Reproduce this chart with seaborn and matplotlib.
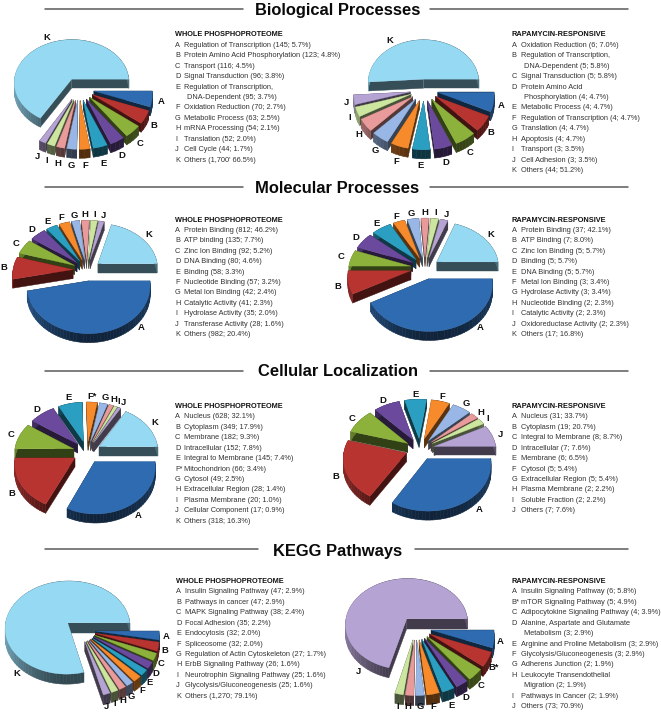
import numpy as np
import matplotlib
matplotlib.use("Agg")
import matplotlib.pyplot as plt
from matplotlib.lines import Line2D
import seaborn as sns

W, H = 661, 714
sns.set_theme(style="white")
plt.rcParams['font.family'] = ['Liberation Sans', 'DejaVu Sans']

PALETTE = sns.color_palette(["#2f6bb0", "#b83430", "#8cb23c", "#6b4a9e", "#2a9fc2", "#f78a2b",
                             "#98b7e6", "#e99b9b", "#cce69f", "#b5a3d3", "#96d9f3"])

TITLES = ["Biological Processes", "Molecular Processes", "Cellular Localization", "KEGG Pathways"]
WHOLE = "WHOLE PHOSPHOPROTEOME"
RAPA = "RAPAMYCIN-RESPONSIVE"

LETTERS_K = list("ABCDEFGHIJK")
LETTERS_J = list("ABCDEFGHIJ")

bio_whole_names = ["Regulation of Transcription", "Protein Amino Acid Phosphorylation", "Transport",
                   "Signal Transduction", "Regulation of Transcription,\nDNA-Dependent", "Oxidation Reduction",
                   "Metabolic Process", "mRNA Processing", "Translation", "Cell Cycle", "Others"]
bio_whole_counts = ["145;", "123;", "116;", "96;", "95;", "70;", "63;", "54;", "52;", "44;", "1,700'"]
bio_whole_pct = [5.7, 4.8, 4.5, 3.8, 3.7, 2.7, 2.5, 2.1, 2.0, 1.7, 66.5]

bio_rapa_names = ["Oxidation Reduction", "Regulation of Transcription,\nDNA-Dependent", "Signal Transduction",
                  "Protein Amino Acid\nPhosphorylation", "Metabolic Process", "Regulation of Transcription",
                  "Translation", "Apoptosis", "Transport", "Cell Adhesion", "Others"]
bio_rapa_counts = ["6;", "5;", "5;", "4;", "4;", "4;", "4;", "4;", "3;", "3;", "44;"]
bio_rapa_pct = [7.0, 5.8, 5.8, 4.7, 4.7, 4.7, 4.7, 4.7, 3.5, 3.5, 51.2]

mol_whole_names = ["Protein Binding", "ATP binding", "Zinc Ion Binding", "DNA Binding", "Binding",
                   "Nucleotide Binding", "Metal Ion Binding", "Catalytic Activity", "Hydrolase Activity",
                   "Transferase Activity", "Others"]
mol_whole_counts = ["812;", "135;", "92;", "80;", "58;", "57;", "42;", "41;", "35;", "28;", "982;"]
mol_whole_pct = [46.2, 7.7, 5.2, 4.6, 3.3, 3.2, 2.4, 2.3, 2.0, 1.6, 20.4]

mol_rapa_names = ["Protein Binding", "ATP Binding", "Zinc Ion Binding", "Binding", "DNA Binding",
                  "Metal Ion Binding", "Hydrolase Activity", "Nucleotide Binding", "Catalytic Activity",
                  "Oxidoreductase Activity", "Others"]
mol_rapa_counts = ["37;", "7;", "5;", "5;", "5;", "3;", "3;", "2;", "2;", "2;", "17;"]
mol_rapa_pct = [42.1, 8.0, 5.7, 5.7, 5.7, 3.4, 3.4, 2.3, 2.3, 2.3, 16.8]
# the drawn slices follow the counts: Others is larger than the printed 16.8%
mol_rapa_slices = [37, 7, 5, 5, 5, 3, 3, 2, 2, 2, 17]

cel_whole_names = ["Nucleus", "Cytoplasm", "Membrane", "Intracellular", "Integral to Membrane", "Mitochondrion",
                   "Cytosol", "Extracellular Region", "Plasma Membrane", "Cellular Component", "Others"]
cel_whole_counts = ["628;", "349;", "182;", "152;", "145;", "66;", "49;", "28;", "20;", "17;", "318;"]
cel_whole_pct = [32.1, 17.9, 9.3, 7.8, 7.4, 3.4, 2.5, 1.4, 1.0, 0.9, 16.3]
cel_whole_letters = ["A", "B", "C", "D", "E", "F*", "G", "H", "I", "J", "K"]

cel_rapa_names = ["Nucleus", "Cytoplasm", "Integral to Membrane", "Intracellular", "Membrane", "Cytosol",
                  "Extracellular Region", "Plasma Membrane", "Soluble Fraction", "Others"]
cel_rapa_counts = ["31;", "19;", "8;", "7;", "6;", "5;", "5;", "2;", "2;", "7;"]
cel_rapa_pct = [33.7, 20.7, 8.7, 7.6, 6.5, 5.4, 5.4, 2.2, 2.2, 7.6]

keg_whole_names = ["Insulin Signaling Pathway", "Pathways in cancer", "MAPK Signaling Pathway", "Focal Adhesion",
                   "Endocytosis", "Spliceosome", "Regulation of Actin Cytoskeleton", "ErbB Signaling Pathway",
                   "Neurotrophin Signaling Pathway", "Glycolysis/Gluconeogenesis", "Others"]
keg_whole_counts = ["47;", "47;", "38;", "35;", "32;", "32;", "27;", "26;", "25;", "25;", "1,270;"]
keg_whole_pct = [2.9, 2.9, 2.4, 2.2, 2.0, 2.0, 1.7, 1.6, 1.6, 1.6, 79.1]

keg_rapa_names = ["Insulin Signaling Pathway", "mTOR Signaling Pathway", "Adipocytokine Signaling Pathway",
                  "Alanine, Aspartate and Glutamate\nMetabolism", "Arginine and Proline Metabolism",
                  "Glycolysis/Gluconeogenesis", "Adherens Junction", "Leukocyte Transendothelial\nMigration",
                  "Pathways in Cancer", "Others"]
keg_rapa_counts = ["6;", "5;", "4;", "3;", "3;", "3;", "2;", "2;", "2;", "73;"]
keg_rapa_pct = [5.8, 4.9, 3.9, 2.9, 2.9, 2.9, 1.9, 1.9, 1.9, 70.9]
keg_rapa_letters = ["A", "B*", "C", "D", "E", "F", "G", "H", "I", "J"]

fig = plt.figure(figsize=(W / 100, H / 100), dpi=100, facecolor="white")


def fx(x):
    return x / W


def fy(y):
    return 1 - y / H


def shade(col, f):
    return tuple(c * f for c in col)


def exploded_pie(cx, cy, rx, ry, k, depth, ex, pct, letters, lab=0.17, place=None):
    """Draw an exploded, tilted pie. Values run clockwise from 3 o'clock."""
    place = place or {}
    box = 105
    ax = fig.add_axes([fx(cx - box), fy(cy + box), 2 * box / W, 2 * box / H])
    ax.set_xlim(-box, box)
    ax.set_ylim(box, -box)
    ax.axis("off")
    vals = np.asarray(pct, float)
    edges = np.concatenate([[0], np.cumsum(vals)]) / vals.sum() * 2 * np.pi

    def proj(u, v):
        f = 1 + k * v
        return rx * u * f, ry * v * f

    kw = dict(clip_on=False, joinstyle="round")
    order = np.argsort(np.sin((edges[:-1] + edges[1:]) / 2))
    for rank, i in enumerate(order):
        a0, a1 = edges[i], edges[i + 1]
        mid = (a0 + a1) / 2
        du, dv = ex * np.cos(mid), ex * np.sin(mid)
        n = max(3, int((a1 - a0) / 0.05))
        th = np.linspace(a0, a1, n)
        x, y = proj(np.cos(th) + du, np.sin(th) + dv)
        x0, y0 = proj(du, dv)
        col = PALETTE[i]
        # cut faces
        for xe, ye in ((x[0], y[0]), (x[-1], y[-1])):
            ax.fill([x0, xe, xe, x0], [y0, ye, ye + depth, y0 + depth], color=shade(col, 0.36),
                    lw=0.3, zorder=1 + 3 * rank, **kw)
        # curved side
        for j in range(n - 1):
            c = np.cos((th[j] + th[j + 1]) / 2)
            f = 0.33 + 0.42 * max(0, -c) ** 1.6 + 0.18 * max(0, c) ** 2
            ax.fill([x[j], x[j + 1], x[j + 1], x[j]], [y[j], y[j + 1], y[j + 1] + depth, y[j] + depth],
                    color=shade(col, f), lw=0.4, zorder=2 + 3 * rank, **kw)
        # top surface
        ax.fill(np.r_[x0, x], np.r_[y0, y], color=col, lw=0.2, zorder=3 + 3 * rank, **kw)
        # letter
        if i in place:
            lx, ly = place[i]
        else:
            r = 1 + ex + lab
            lx, ly = proj(r * np.cos(mid), r * np.sin(mid))
            if np.sin(mid) > 0:
                ly += depth * np.sin(mid)
        ax.text(lx, ly, letters[i], ha="center", va="center", fontsize=6.8, fontweight="bold",
                color="#111111", zorder=100, clip_on=False)


def legend(x, y, heading, letters, names, counts, pct, step=10.42, indent=9.2):
    fig.text(fx(x), fy(y), heading, fontsize=5.27, fontweight="bold", color="#111111", va="center")
    row = 1
    for let, name, cnt, p in zip(letters, names, counts, pct):
        parts = name.split("\n")
        full = parts[:-1] + [f"{parts[-1]} ({cnt} {p:.1f}%)"]
        fig.text(fx(x), fy(y + row * step), let, fontsize=5.3, color="#333333", va="center")
        for j, t in enumerate(full):
            fig.text(fx(x + indent + (3 if j else 0)), fy(y + row * step), t, fontsize=5.3, color="#333333", va="center")
            row += 1


def header(yline, ybase, title, x0=45, x1=243, x2=430, x3=628):
    fig.text(fx(337.5), fy(ybase), title, fontsize=11.9, fontweight="bold", color="#0a0a0a", ha="center", va="baseline")
    for a, b in ((x0, x1), (x2, x3)):
        fig.add_artist(Line2D([fx(a), fx(b)], [fy(yline), fy(yline)], color="#5a5a5a", lw=1.1))


header(9, 14.5, TITLES[0])
header(187, 192.7, TITLES[1])
header(371, 375.7, TITLES[2])
header(549, 555.7, TITLES[3], x1=258, x2=415)

exploded_pie(79, 89, 58, 44, 0.07, 9, 0.26, bio_whole_pct, LETTERS_K, lab=0.15, place={10: (-32, -51)})
exploded_pie(424, 90, 56, 44, 0.07, 9, 0.25, bio_rapa_pct, LETTERS_K, lab=0.13, place={10: (-34, -49)})
exploded_pie(87, 270, 60, 46, 0.10, 9, 0.233, mol_whole_pct, LETTERS_K, place={0: (54, 57)})
exploded_pie(425, 268, 62, 46, 0.10, 9, 0.236, mol_rapa_slices, LETTERS_K, place={0: (55, 59)})
exploded_pie(87, 452, 59, 46, 0.10, 9, 0.24, cel_whole_pct, cel_whole_letters, place={0: (51, 63)})
exploded_pie(420, 449, 62, 46, 0.10, 9, 0.235, cel_rapa_pct, LETTERS_J, lab=0.15, place={0: (59, 61)})
exploded_pie(80, 630, 63, 48, 0.10, 10, 0.25, keg_whole_pct, LETTERS_K, lab=0.10,
             place={10: (-63, 44), 9: (27, 77), 8: (35, 74), 7: (43, 71), 6: (51, 67)})
exploded_pie(416, 628, 62, 47.5, 0.11, 10, 0.25, keg_rapa_pct, keg_rapa_letters, lab=0.10,
             place={9: (-58, 44), 5: (17, 79), 6: (4, 79), 7: (-8, 79), 8: (-18, 79)})

legend(175, 35, WHOLE, LETTERS_K, bio_whole_names, bio_whole_counts, bio_whole_pct)
legend(511.5, 35, RAPA, LETTERS_K, bio_rapa_names, bio_rapa_counts, bio_rapa_pct)
legend(175, 220, WHOLE, LETTERS_K, mol_whole_names, mol_whole_counts, mol_whole_pct)
legend(511.5, 220, RAPA, LETTERS_K, mol_rapa_names, mol_rapa_counts, mol_rapa_pct)
legend(175, 406.5, WHOLE, cel_whole_letters, cel_whole_names, cel_whole_counts, cel_whole_pct)
legend(511.5, 406.5, RAPA, LETTERS_J, cel_rapa_names, cel_rapa_counts, cel_rapa_pct)
legend(176, 581.5, WHOLE, LETTERS_K, keg_whole_names, keg_whole_counts, keg_whole_pct)
legend(511.5, 581.5, RAPA, keg_rapa_letters, keg_rapa_names, keg_rapa_counts, keg_rapa_pct)

fig.savefig("out.png", dpi=100)
